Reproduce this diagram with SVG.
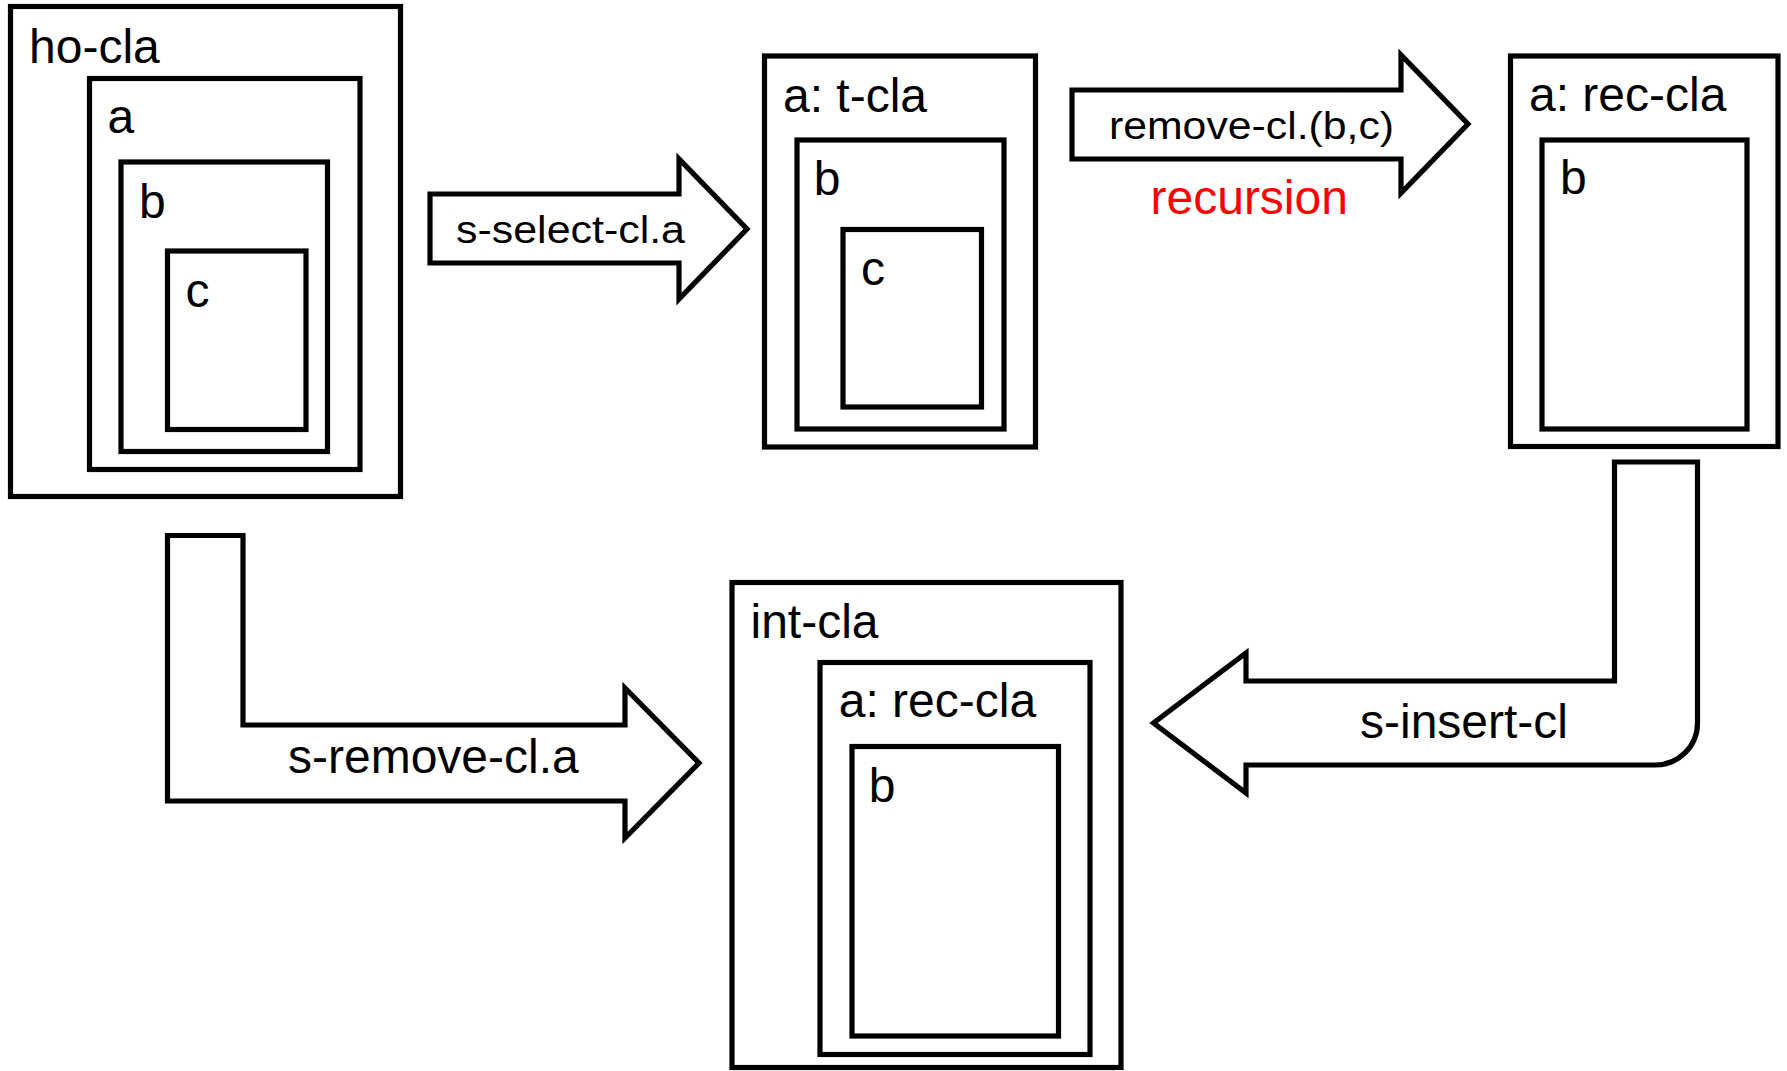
<svg xmlns="http://www.w3.org/2000/svg" width="1787" height="1071" viewBox="0 0 1787 1071">
<style>
.box{fill:none;stroke:#000;stroke-width:5.2}
.arrow{fill:#fff;stroke:#000;stroke-width:5.2;stroke-linejoin:miter}
text{font-family:"Liberation Sans",Arial,sans-serif;font-size:48px;fill:#000}
.lbl{font-size:38px}
.red{fill:#ff0000}
</style>
<rect x="0" y="0" width="1787" height="1071" fill="#fff"/>
<g id="connectors">
  <g id="arrow-s-select">
    <polygon class="arrow" points="430,194 679,194 679,159 747,229 679,299 679,263 430,263"/>
    <text class="lbl" x="456" y="243" textLength="229" lengthAdjust="spacingAndGlyphs">s-select-cl.a</text>
  </g>
  <g id="arrow-remove">
    <polygon class="arrow" points="1072,90 1401,90 1401,55 1468,124 1401,193 1401,159 1072,159"/>
    <text class="lbl" x="1109" y="139" textLength="285" lengthAdjust="spacingAndGlyphs">remove-cl.(b,c)</text>
    <text class="red" x="1150.5" y="213.5">recursion</text>
  </g>
  <g id="arrow-s-remove">
    <path class="arrow" d="M167.5,535.5 H243 V725 H625 V688 L699,763 L625,838 V801 H167.5 Z"/>
    <text x="288" y="773">s-remove-cl.a</text>
  </g>
  <g id="arrow-s-insert">
    <path class="arrow" d="M1614.5,462 H1697.5 V723 A42,42 0 0 1 1655.5,765 H1246 V793 L1153.5,723 L1246,653 V681 H1614.5 Z"/>
    <text x="1360" y="738">s-insert-cl</text>
  </g>
</g>
<g id="node-ho-cla">
  <rect class="box" x="10.5" y="6.5" width="390" height="490"/>
  <text x="29" y="62.7">ho-cla</text>
  <g id="node-ho-cla-a">
    <rect class="box" x="89.5" y="78.5" width="270.5" height="391"/>
    <text x="107.5" y="133.3">a</text>
    <g id="node-ho-cla-b">
      <rect class="box" x="121" y="162" width="206.5" height="289.5"/>
      <text x="139" y="218.3">b</text>
      <g id="node-ho-cla-c">
        <rect class="box" x="167.5" y="251" width="138.5" height="178.5"/>
        <text x="185.5" y="306.7">c</text>
      </g>
    </g>
  </g>
</g>
<g id="node-t-cla">
  <rect class="box" x="764.5" y="56" width="271" height="391"/>
  <text x="783" y="111.7">a: t-cla</text>
  <g id="node-t-cla-b">
    <rect class="box" x="797" y="140" width="207" height="289"/>
    <text x="813.7" y="195">b</text>
    <g id="node-t-cla-c">
      <rect class="box" x="843" y="229.5" width="138.5" height="177.5"/>
      <text x="861" y="285">c</text>
    </g>
  </g>
</g>
<g id="node-rec-cla">
  <rect class="box" x="1510.5" y="56" width="267.5" height="390.5"/>
  <text x="1529" y="111">a: rec-cla</text>
  <g id="node-rec-cla-b">
    <rect class="box" x="1542" y="140" width="205" height="289"/>
    <text x="1560" y="194">b</text>
  </g>
</g>
<g id="node-int-cla">
  <rect class="box" x="732" y="582.5" width="389" height="485"/>
  <text x="750.5" y="638.3">int-cla</text>
  <g id="node-int-cla-a">
    <rect class="box" x="820" y="662.5" width="270" height="392"/>
    <text x="838.7" y="716.7">a: rec-cla</text>
    <g id="node-int-cla-b">
      <rect class="box" x="852" y="746.5" width="206.5" height="289.5"/>
      <text x="868.7" y="801.7">b</text>
    </g>
  </g>
</g>
</svg>
